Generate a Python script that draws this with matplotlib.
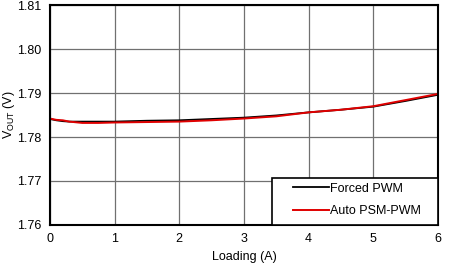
import matplotlib
matplotlib.use("Agg")
import matplotlib.pyplot as plt
from matplotlib.patches import Rectangle

plt.rcParams['font.family'] = ['Liberation Sans', 'DejaVu Sans']

loading = [0, 0.1, 0.2, 0.3, 0.5, 0.75, 1, 1.5, 2, 2.5, 3, 3.5, 4, 4.5, 5, 5.5, 6]
forced_pwm = [1.7841, 1.7838, 1.7836, 1.7835, 1.7835, 1.7835, 1.7835, 1.7837, 1.7838,
              1.7841, 1.7844, 1.7849, 1.7856, 1.7862, 1.7869, 1.7882, 1.7896]
auto_psm = [1.7842, 1.7839, 1.7838, 1.7835, 1.7832, 1.7832, 1.7833, 1.7834, 1.7835,
            1.7838, 1.7842, 1.7847, 1.7856, 1.7862, 1.7870, 1.7884, 1.7898]

fig = plt.figure(figsize=(4.53, 2.65), dpi=100)
ax = fig.add_axes([0.110, 0.151, 0.857, 0.830])

ax.plot(loading, forced_pwm, color='black', lw=1.3, label='Forced PWM')
ax.plot(loading, auto_psm, color='#e00000', lw=1.4, label='Auto PSM-PWM')

ax.set_xlim(0, 6)
ax.set_ylim(1.76, 1.81)
ax.set_xticks(range(0, 7))
ax.set_yticks([1.76, 1.77, 1.78, 1.79, 1.80, 1.81])
ax.set_yticklabels(['1.76', '1.77', '1.78', '1.79', '1.80', '1.81'])
ax.grid(True, color='#707070', lw=0.9)
ax.tick_params(length=0, labelsize=9, pad=6)
for s in ax.spines.values():
    s.set_linewidth(1.5)
    s.set_color('black')

ax.set_xlabel('Loading (A)', fontsize=9)
ax.set_ylabel(r'V$_{\mathregular{OUT}}$ (V)', fontsize=9, labelpad=0)

# legend box drawn by hand so the padding matches
box = Rectangle((0.572, 0), 0.428, 0.214, transform=ax.transAxes,
                facecolor='white', edgecolor='black', lw=1.2, zorder=4)
ax.add_patch(box)
leg = ax.legend(loc='lower right', bbox_to_anchor=(0.956, 0.036), fontsize=9,
                frameon=False, borderaxespad=0, borderpad=0, handlelength=2.9,
                labelspacing=0.84, handletextpad=0.1)
leg.set_zorder(5)

fig.savefig('out.png', dpi=100)
